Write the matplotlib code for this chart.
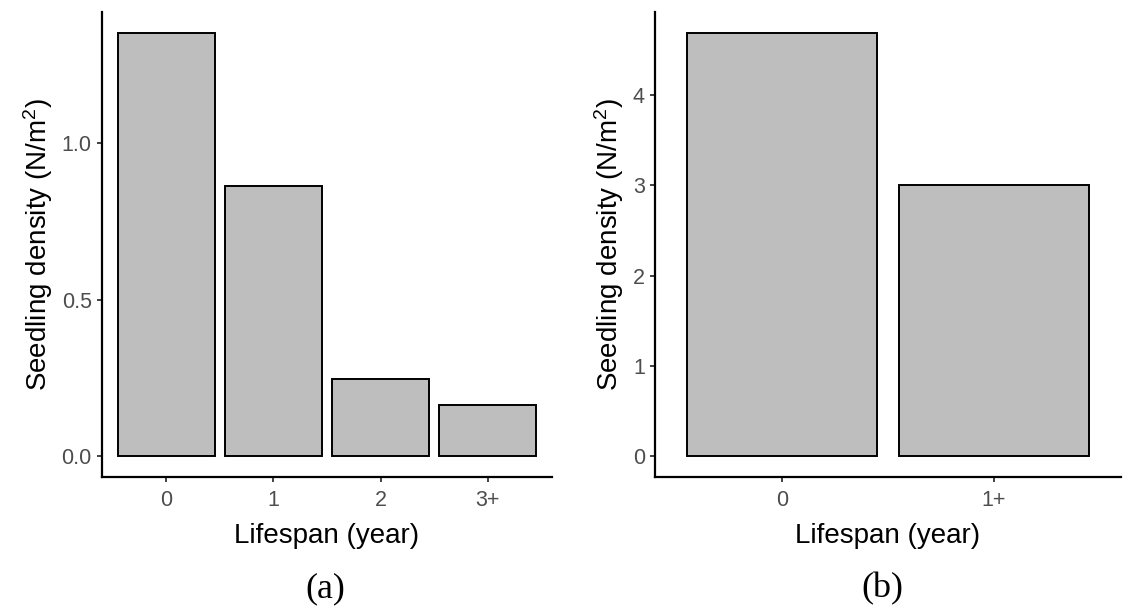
import matplotlib
matplotlib.use("Agg")
import matplotlib.pyplot as plt

# Data
lifespan_a = ["0", "1", "2", "3+"]
density_a = [1.353, 0.865, 0.247, 0.163]

lifespan_b = ["0", "1+"]
density_b = [4.69, 3.0]

yticks_a = [0.0, 0.5, 1.0]
yticks_b = [0, 1, 2, 3, 4]

plt.rcParams["font.family"] = ["Liberation Sans", "DejaVu Sans"]
plt.rcParams["mathtext.fontset"] = "custom"
plt.rcParams["mathtext.rm"] = "Liberation Sans"
plt.rcParams["mathtext.it"] = "Liberation Sans:italic"

fig = plt.figure(figsize=(11.25, 6.08), dpi=100)
ax_a = fig.add_axes([102 / 1125, 1 - 477 / 608, 450 / 1125, 465 / 608])
ax_b = fig.add_axes([655 / 1125, 1 - 477 / 608, 466 / 1125, 465 / 608])


def draw_panel(ax, cats, vals, yticks, fmt):
    x = range(len(cats))
    ax.bar(x, vals, width=0.9, color="#bebebe", edgecolor="black", linewidth=1.4)
    ax.set_xlim(-0.6, len(cats) - 0.4)
    top = max(vals)
    ax.set_ylim(-0.05 * top, 1.05 * top)
    ax.set_xticks(list(x))
    ax.set_xticklabels(cats)
    ax.set_yticks(yticks)
    ax.set_yticklabels([fmt.format(t) for t in yticks])
    for side in ["top", "right"]:
        ax.spines[side].set_visible(False)
    for side in ["left", "bottom"]:
        ax.spines[side].set_linewidth(1.6)
    ax.tick_params(axis="both", length=3.8, width=1.3, color="#333333",
                   labelsize=15.5, labelcolor="#4d4d4d")
    ax.tick_params(axis="x", pad=5.5)
    ax.tick_params(axis="y", pad=3.5)
    ax.set_xlabel("Lifespan (year)", fontsize=20, labelpad=9)
    ax.set_ylabel(r"Seedling density $(\mathrm{N/m^2})$", fontsize=20, labelpad=5)


draw_panel(ax_a, lifespan_a, density_a, yticks_a, "{:.1f}")
draw_panel(ax_b, lifespan_b, density_b, yticks_b, "{:d}")

fig.text(325 / 1125, 1 - 589 / 608, "(a)", family="Liberation Serif",
         fontsize=26, ha="center", va="center")
fig.text(882 / 1125, 1 - 589 / 608, "(b)", family="Liberation Serif",
         fontsize=26, ha="center", va="center")

fig.savefig("out.png", dpi=100)
